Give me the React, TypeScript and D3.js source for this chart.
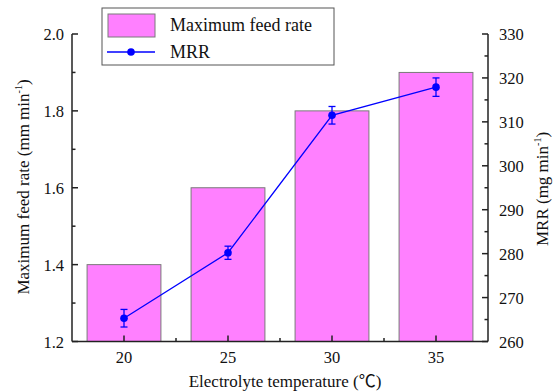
import React from "react";
import * as d3 from "d3";

const categories = ["20", "25", "30", "35"];
const feedRate = [1.4, 1.6, 1.8, 1.9];
const mrr = [265.3, 280.2, 311.5, 317.9];
const mrrErr = [2.0, 1.5, 2.0, 2.1];
const leftTicks = [1.2, 1.4, 1.6, 1.8, 2.0];
const rightTicks = [260, 270, 280, 290, 300, 310, 320, 330];

const W = 553, H = 391;
const L = 72, R = 488, T = 34, B = 341.5;
const FONT = "Liberation Serif, Times New Roman, DejaVu Serif, serif";

export default function App() {
  const x = d3.scaleBand().domain(categories).range([L, R]).paddingInner(0).paddingOuter(0);
  const yL = d3.scaleLinear().domain([1.2, 2.0]).range([B, T]);
  const yR = d3.scaleLinear().domain([260, 330]).range([B, T]);
  const bw = x.bandwidth() * 0.71;
  const cx = (c: string) => (x(c) as number) + x.bandwidth() / 2;
  const line = d3.line<number>().x((_, i) => cx(categories[i])).y((d) => yR(d));
  const leftMinor = d3.range(1.3, 2.0, 0.2).map((v) => +v.toFixed(2));
  const rightMinor = d3.range(265, 330, 10);
  const xMinor = categories.slice(1).map((c) => x(c) as number);
  const blue = "#0000ff";
  const pink = "#ff80ff";
  const ax = "#222";
  const ts = { fontFamily: FONT };

  return (
    <svg width={W} height={H} style={{ position: "absolute", left: 0, top: 0, background: "#fff", fontFamily: FONT }}>
      {/* bars */}
      {categories.map((c, i) => (
        <rect key={c} x={cx(c) - bw / 2} y={yL(feedRate[i])} width={bw} height={B - yL(feedRate[i])}
          fill={pink} stroke="#7a7a7a" strokeWidth={1} />
      ))}
      {/* line */}
      <path d={line(mrr) || ""} fill="none" stroke={blue} strokeWidth={1.3} />
      {mrr.map((v, i) => {
        const px = cx(categories[i]);
        return (
          <g key={i} stroke={blue} strokeWidth={1.3}>
            <line x1={px} x2={px} y1={yR(v - mrrErr[i])} y2={yR(v + mrrErr[i])} />
            <line x1={px - 3.5} x2={px + 3.5} y1={yR(v - mrrErr[i])} y2={yR(v - mrrErr[i])} />
            <line x1={px - 3.5} x2={px + 3.5} y1={yR(v + mrrErr[i])} y2={yR(v + mrrErr[i])} />
            <circle cx={px} cy={yR(v)} r={3.8} fill={blue} stroke="none" />
          </g>
        );
      })}
      {/* axes */}
      <g stroke={ax} strokeWidth={1.5} fill="none">
        <line x1={L} x2={L} y1={T} y2={B} />
        <line x1={R} x2={R} y1={T} y2={B} />
        <line x1={L} x2={R} y1={B} y2={B} />
        {leftTicks.map((t) => <line key={t} x1={L} x2={L + 6} y1={yL(t)} y2={yL(t)} />)}
        {leftMinor.map((t) => <line key={t} x1={L} x2={L + 3.5} y1={yL(t)} y2={yL(t)} />)}
        {rightTicks.map((t) => <line key={t} x1={R} x2={R - 6} y1={yR(t)} y2={yR(t)} />)}
        {rightMinor.map((t) => <line key={t} x1={R} x2={R - 3.5} y1={yR(t)} y2={yR(t)} />)}
        {categories.map((c) => <line key={c} x1={cx(c)} x2={cx(c)} y1={B} y2={B - 6} />)}
        {xMinor.map((m, i) => <line key={i} x1={m} x2={m} y1={B} y2={B - 3.5} />)}
      </g>
      {/* tick labels */}
      <g style={{ ...ts, fontSize: 16.5 }} fill="#111">
        {leftTicks.map((t) => (
          <text key={t} x={64} y={yL(t) + 6} textAnchor="end">{t.toFixed(1)}</text>
        ))}
        {rightTicks.map((t) => (
          <text key={t} x={499} y={yR(t) + 6} textAnchor="start">{t}</text>
        ))}
        {categories.map((c) => (
          <text key={c} x={cx(c)} y={363} textAnchor="middle">{c}</text>
        ))}
      </g>
      {/* axis titles */}
      <g style={{ ...ts, fontSize: 17 }} fill="#111">
        <text x={285} y={387} textAnchor="middle">
          Electrolyte temperature (<tspan style={{ fontFamily: "Noto Sans CJK SC, sans-serif", fontSize: 17 }}>℃</tspan>)
        </text>
        <text transform={`translate(29,187) rotate(-90)`} textAnchor="middle">
          Maximum feed rate (mm min<tspan dy={-7} style={{ fontSize: 10 }}>-1</tspan><tspan dy={7}>)</tspan>
        </text>
        <text transform={`translate(548,189) rotate(-90)`} textAnchor="middle">
          MRR (mg min<tspan dy={-7} style={{ fontSize: 10 }}>-1</tspan><tspan dy={7}>)</tspan>
        </text>
      </g>
      {/* legend */}
      <rect x={102} y={8} width={232} height={57} fill="#fff" stroke="#555" strokeWidth={1} />
      <rect x={108} y={14} width={47} height={23} fill={pink} stroke="#7a7a7a" strokeWidth={1} />
      <text x={170} y={31} style={{ ...ts, fontSize: 18 }} fill="#111">Maximum feed rate</text>
      <line x1={107} x2={155} y1={52} y2={52} stroke={blue} strokeWidth={1.3} />
      <circle cx={131} cy={52} r={3.8} fill={blue} />
      <text x={170} y={58} style={{ ...ts, fontSize: 18 }} fill="#111">MRR</text>
    </svg>
  );
}
